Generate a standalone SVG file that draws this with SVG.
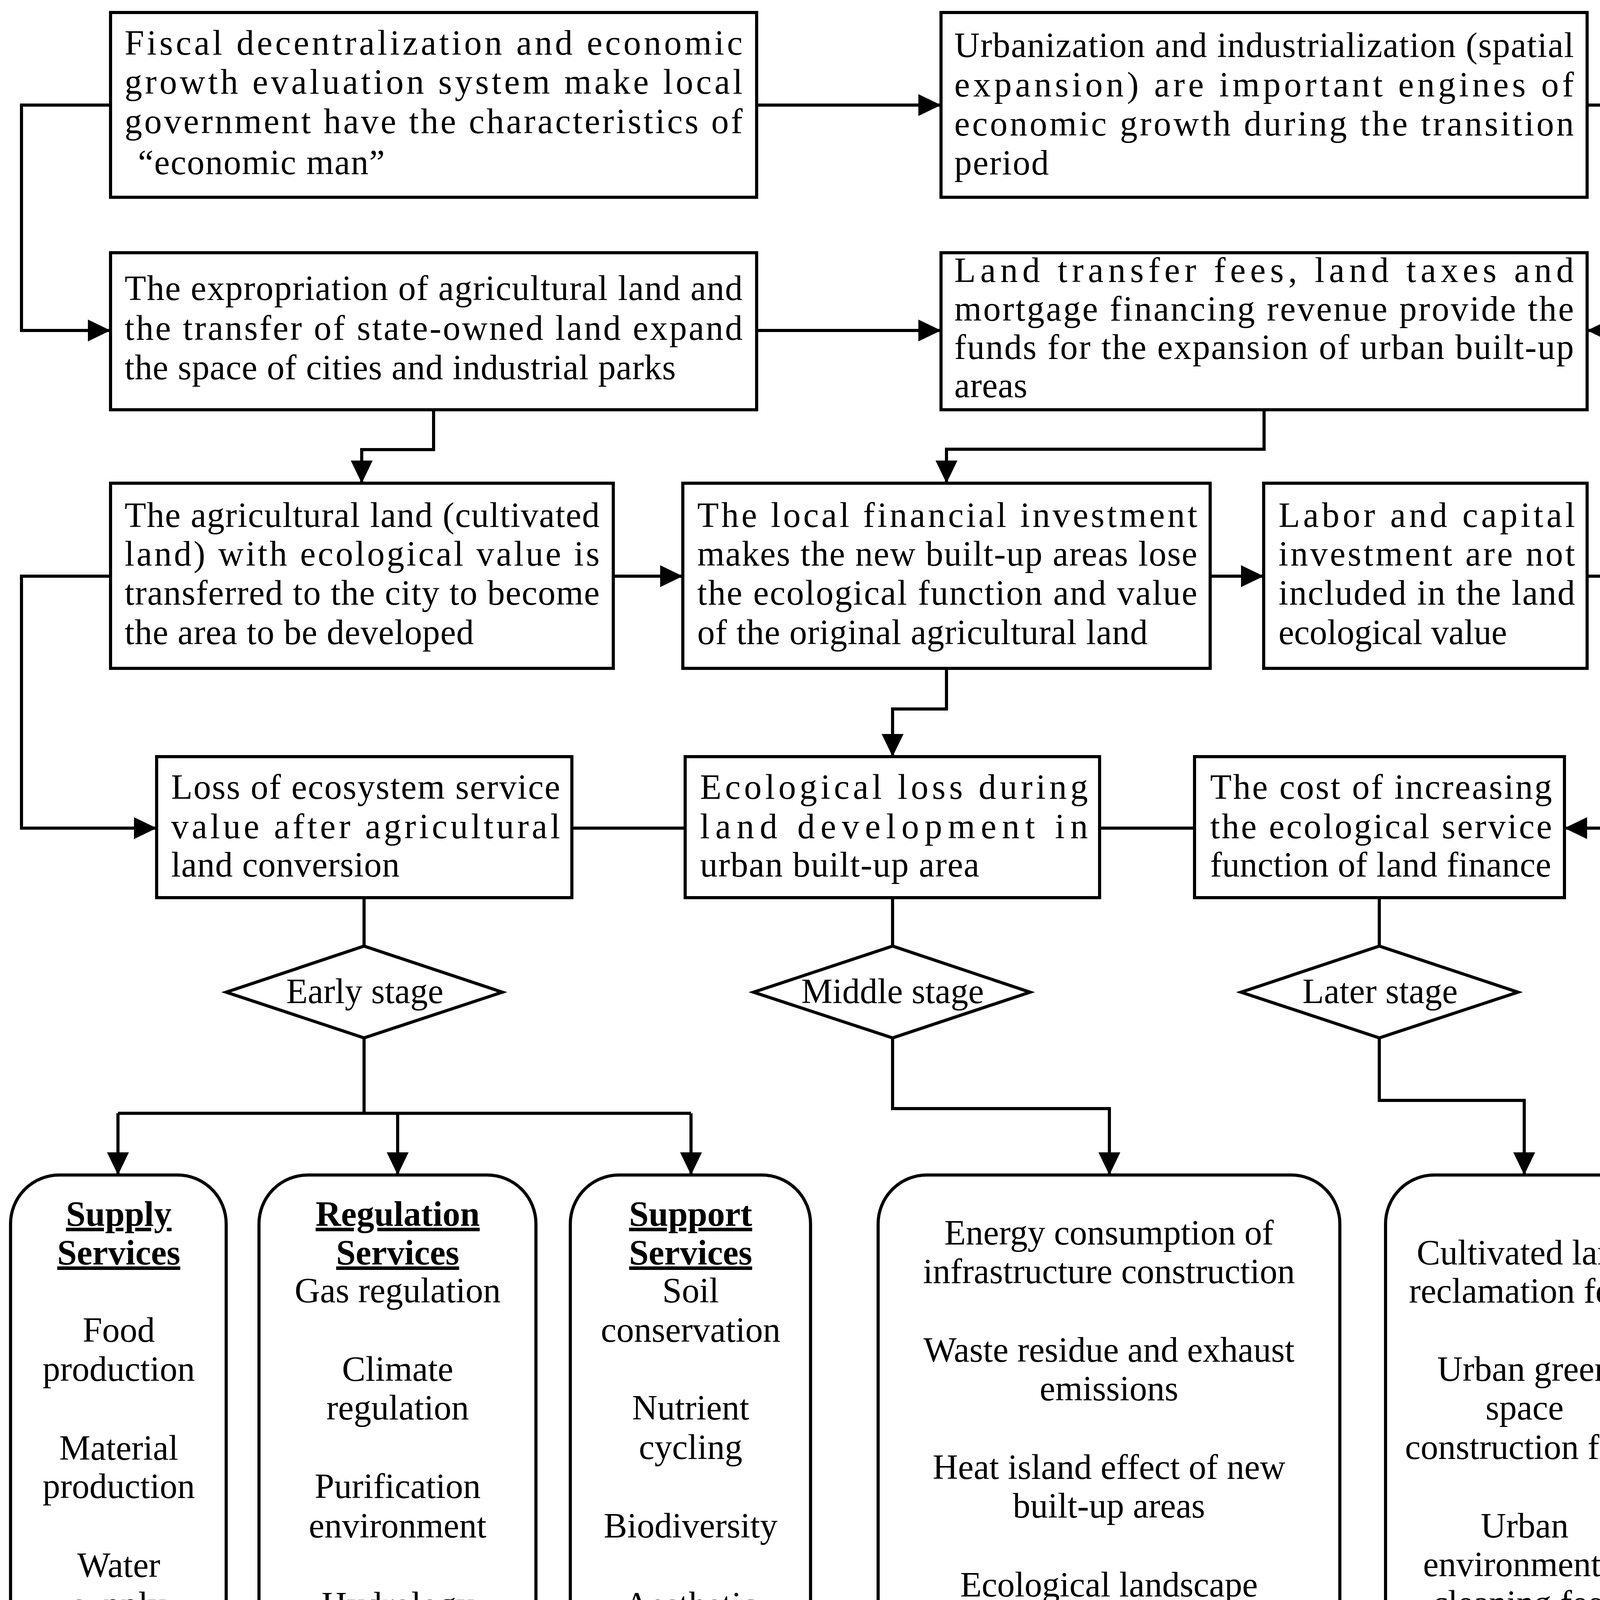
<svg xmlns="http://www.w3.org/2000/svg" width="4289" height="4335" viewBox="0 0 4289 4335">
<style>
.box{fill:#fff;stroke:#000;stroke-width:8;stroke-linejoin:miter}
.rbox{fill:#fff;stroke:#000;stroke-width:8}
.con{fill:none;stroke:#000;stroke-width:8;stroke-linejoin:miter}
.t{font-family:"Liberation Serif","Times New Roman",serif;font-size:90px;fill:#000}
.c{font-family:"Liberation Serif","Times New Roman",serif;font-size:90px;fill:#000;text-anchor:middle}
.h{font-family:"Liberation Serif","Times New Roman",serif;font-size:90px;font-weight:bold;fill:#000;text-anchor:middle;text-decoration:underline}
</style>
<defs>
<marker id="arr" markerUnits="userSpaceOnUse" markerWidth="60" markerHeight="60" refX="58" refY="28" orient="auto" viewBox="0 0 60 56">
<path d="M0,0 L58,28 L0,56 z" fill="#000"/>
</marker>
</defs>
<rect width="4289" height="4335" fill="#fff"/>

<g id="connectors">
<path class="con" d="M1937,269 H2409" marker-end="url(#arr)"/>
<path class="con" d="M283,269 H55 V846 H283" marker-end="url(#arr)"/>
<path class="con" d="M4063,269 H4244 V846 H4063" marker-end="url(#arr)"/>
<path class="con" d="M1937,846 H2409" marker-end="url(#arr)"/>
<path class="con" d="M1110,1049 V1151 H926 V1237" marker-end="url(#arr)"/>
<path class="con" d="M3236,1049 V1150 H2423 V1237" marker-end="url(#arr)"/>
<path class="con" d="M1570,1475 H1748" marker-end="url(#arr)"/>
<path class="con" d="M3098,1475 H3235" marker-end="url(#arr)"/>
<path class="con" d="M283,1475 H55 V2120 H401" marker-end="url(#arr)"/>
<path class="con" d="M4063,1475 H4258 V2120 H4005" marker-end="url(#arr)"/>
<path class="con" d="M2423,1711 V1815 H2285 V1937" marker-end="url(#arr)"/>
<path class="con" d="M1464,2120 H1754"/>
<path class="con" d="M2815,2120 H3058"/>
<path class="con" d="M932,2298 V2422"/>
<path class="con" d="M2285,2298 V2422"/>
<path class="con" d="M3531,2298 V2422"/>
<path class="con" d="M932,2657 V2850"/>
<path class="con" d="M302,2850 H1769"/>
<path class="con" d="M302,2850 V3008" marker-end="url(#arr)"/>
<path class="con" d="M1018,2850 V3008" marker-end="url(#arr)"/>
<path class="con" d="M1769,2850 V3008" marker-end="url(#arr)"/>
<path class="con" d="M2285,2657 V2838 H2840 V3008" marker-end="url(#arr)"/>
<path class="con" d="M3531,2657 V2817 H3902 V3008" marker-end="url(#arr)"/>
</g>

<g id="n1">
<rect class="box" x="283" y="32" width="1654" height="473"/>
<text class="t" x="319" y="140" textLength="1582" lengthAdjust="spacing">Fiscal decentralization and economic</text>
<text class="t" x="319" y="240" textLength="1582" lengthAdjust="spacing">growth evaluation system make local</text>
<text class="t" x="319" y="341" textLength="1582" lengthAdjust="spacing">government have the characteristics of</text>
<text class="t" x="353" y="446" textLength="632" lengthAdjust="spacing">“economic man”</text>
</g>

<g id="n2">
<rect class="box" x="2409" y="32" width="1654" height="473"/>
<text class="t" x="2443" y="146" textLength="1586" lengthAdjust="spacing">Urbanization and industrialization (spatial</text>
<text class="t" x="2443" y="247" textLength="1586" lengthAdjust="spacing">expansion) are important engines of</text>
<text class="t" x="2443" y="347" textLength="1586" lengthAdjust="spacing">economic growth during the transition</text>
<text class="t" x="2443" y="447" textLength="242" lengthAdjust="spacing">period</text>
</g>

<g id="n3">
<rect class="box" x="283" y="647" width="1654" height="402"/>
<text class="t" x="319" y="768" textLength="1582" lengthAdjust="spacing">The expropriation of agricultural land and</text>
<text class="t" x="319" y="870" textLength="1582" lengthAdjust="spacing">the transfer of state-owned land expand</text>
<text class="t" x="319" y="971" textLength="1411" lengthAdjust="spacing">the space of cities and industrial parks</text>
</g>

<g id="n4">
<rect class="box" x="2409" y="647" width="1654" height="402"/>
<text class="t" x="2443" y="722" textLength="1586" lengthAdjust="spacing">Land transfer fees, land taxes and</text>
<text class="t" x="2443" y="821" textLength="1586" lengthAdjust="spacing">mortgage financing revenue provide the</text>
<text class="t" x="2443" y="919" textLength="1586" lengthAdjust="spacing">funds for the expansion of urban built-up</text>
<text class="t" x="2443" y="1017" textLength="187" lengthAdjust="spacing">areas</text>
</g>

<g id="n5">
<rect class="box" x="283" y="1237" width="1287" height="474"/>
<text class="t" x="319" y="1349" textLength="1216" lengthAdjust="spacing">The agricultural land (cultivated</text>
<text class="t" x="319" y="1448" textLength="1216" lengthAdjust="spacing">land) with ecological value is</text>
<text class="t" x="319" y="1548" textLength="1216" lengthAdjust="spacing">transferred to the city to become</text>
<text class="t" x="319" y="1649" textLength="894" lengthAdjust="spacing">the area to be developed</text>
</g>

<g id="n6">
<rect class="box" x="1748" y="1237" width="1350" height="474"/>
<text class="t" x="1785" y="1349" textLength="1280" lengthAdjust="spacing">The local financial investment</text>
<text class="t" x="1785" y="1448" textLength="1280" lengthAdjust="spacing">makes the new built-up areas lose</text>
<text class="t" x="1785" y="1548" textLength="1280" lengthAdjust="spacing">the ecological function and value</text>
<text class="t" x="1785" y="1649" textLength="1153" lengthAdjust="spacing">of the original agricultural land</text>
</g>

<g id="n7">
<rect class="box" x="3235" y="1237" width="828" height="474"/>
<text class="t" x="3273" y="1349" textLength="759" lengthAdjust="spacing">Labor and capital</text>
<text class="t" x="3273" y="1448" textLength="759" lengthAdjust="spacing">investment are not</text>
<text class="t" x="3273" y="1548" textLength="759" lengthAdjust="spacing">included in the land</text>
<text class="t" x="3273" y="1649" textLength="585" lengthAdjust="spacing">ecological value</text>
</g>

<g id="n8">
<rect class="box" x="401" y="1937" width="1063" height="361"/>
<text class="t" x="438" y="2045" textLength="996" lengthAdjust="spacing">Loss of ecosystem service</text>
<text class="t" x="438" y="2146" textLength="996" lengthAdjust="spacing">value after agricultural</text>
<text class="t" x="438" y="2244" textLength="585" lengthAdjust="spacing">land conversion</text>
</g>

<g id="n9">
<rect class="box" x="1754" y="1937" width="1061" height="361"/>
<text class="t" x="1792" y="2045" textLength="993" lengthAdjust="spacing">Ecological loss during</text>
<text class="t" x="1792" y="2146" textLength="993" lengthAdjust="spacing">land development in</text>
<text class="t" x="1792" y="2244" textLength="715" lengthAdjust="spacing">urban built-up area</text>
</g>

<g id="n10">
<rect class="box" x="3058" y="1937" width="947" height="361"/>
<text class="t" x="3098" y="2045" textLength="875" lengthAdjust="spacing">The cost of increasing</text>
<text class="t" x="3098" y="2146" textLength="875" lengthAdjust="spacing">the ecological service</text>
<text class="t" x="3098" y="2244" textLength="873" lengthAdjust="spacing">function of land finance</text>
</g>

<g id="d1">
<polygon class="box" points="579,2540 932,2422 1286,2540 932,2657"/>
<text class="c" x="934" y="2568">Early stage</text>
</g>
<g id="d2">
<polygon class="box" points="1929,2540 2285,2422 2637,2540 2285,2657"/>
<text class="c" x="2285" y="2568">Middle stage</text>
</g>
<g id="d3">
<polygon class="box" points="3177,2540 3531,2422 3886,2540 3531,2657"/>
<text class="c" x="3533" y="2568">Later stage</text>
</g>

<g id="s1">
<rect class="rbox" x="27" y="3008" width="552" height="1305" rx="125" ry="125"/>
<text class="h" x="304" y="3138">Supply</text>
<text class="h" x="304" y="3237">Services</text>
<text class="c" x="304" y="3435">Food</text>
<text class="c" x="304" y="3535">production</text>
<text class="c" x="304" y="3737">Material</text>
<text class="c" x="304" y="3835">production</text>
<text class="c" x="304" y="4037">Water</text>
<text class="c" x="304" y="4138">supply</text>
</g>

<g id="s2">
<rect class="rbox" x="663" y="3008" width="709" height="1305" rx="125" ry="125"/>
<text class="h" x="1018" y="3138">Regulation</text>
<text class="h" x="1018" y="3237">Services</text>
<text class="c" x="1018" y="3334">Gas regulation</text>
<text class="c" x="1018" y="3535">Climate</text>
<text class="c" x="1018" y="3634">regulation</text>
<text class="c" x="1018" y="3835">Purification</text>
<text class="c" x="1018" y="3936">environment</text>
<text class="c" x="1018" y="4138">Hydrology</text>
<text class="c" x="1018" y="4236">regulation</text>
</g>

<g id="s3">
<rect class="rbox" x="1460" y="3008" width="615" height="1305" rx="125" ry="125"/>
<text class="h" x="1768" y="3138">Support</text>
<text class="h" x="1768" y="3237">Services</text>
<text class="c" x="1768" y="3334">Soil</text>
<text class="c" x="1768" y="3435">conservation</text>
<text class="c" x="1768" y="3634">Nutrient</text>
<text class="c" x="1768" y="3735">cycling</text>
<text class="c" x="1768" y="3936">Biodiversity</text>
<text class="c" x="1768" y="4138">Aesthetic</text>
<text class="c" x="1768" y="4236">function</text>
</g>

<g id="s4">
<rect class="rbox" x="2248" y="3008" width="1182" height="1305" rx="125" ry="125"/>
<text class="c" x="2839" y="3186">Energy consumption of</text>
<text class="c" x="2839" y="3285">infrastructure construction</text>
<text class="c" x="2839" y="3486">Waste residue and exhaust</text>
<text class="c" x="2839" y="3585">emissions</text>
<text class="c" x="2839" y="3786">Heat island effect of new</text>
<text class="c" x="2839" y="3885">built-up areas</text>
<text class="c" x="2839" y="4087">Ecological landscape</text>
<text class="c" x="2839" y="4186">fragmentation</text>
</g>

<g id="s5">
<rect class="rbox" x="3547" y="3008" width="711" height="1305" rx="125" ry="125"/>
<text class="c" x="3903" y="3237">Cultivated land</text>
<text class="c" x="3903" y="3335">reclamation fees</text>
<text class="c" x="3903" y="3535">Urban green</text>
<text class="c" x="3903" y="3634">space</text>
<text class="c" x="3903" y="3735">construction fees</text>
<text class="c" x="3903" y="3936">Urban</text>
<text class="c" x="3903" y="4035">environmental</text>
<text class="c" x="3903" y="4134">cleaning fees</text>
</g>
</svg>
